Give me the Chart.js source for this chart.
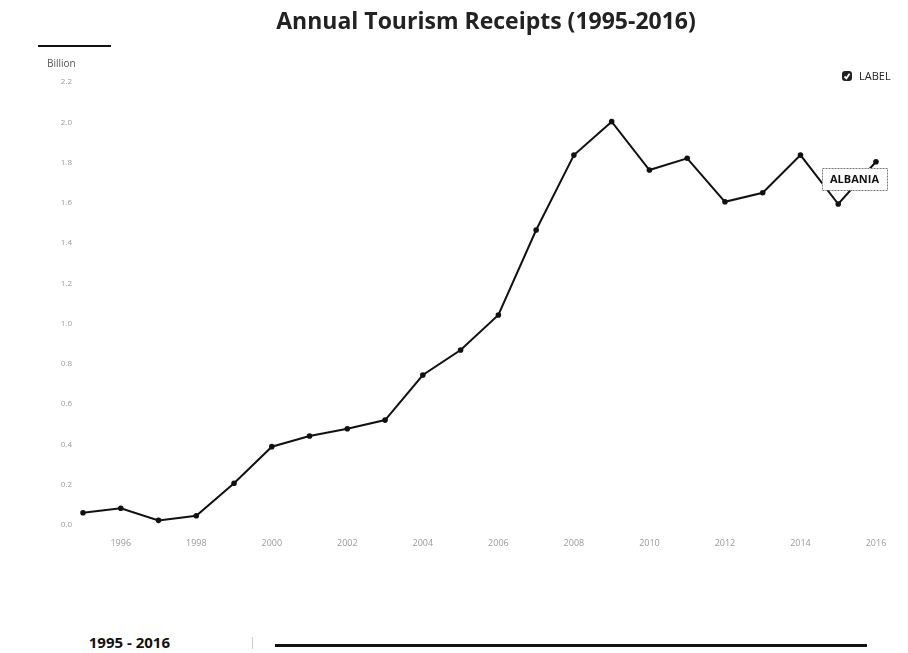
<!DOCTYPE html>
<html>
<head>
<meta charset="utf-8">
<script src="https://cdn.jsdelivr.net/npm/chart.js@4.4.0/dist/chart.umd.min.js"></script>
<style>
  html, body { margin: 0; padding: 0; background: #fff; }
  #wrap { position: relative; width: 908px; height: 580px; }
  #range {
    position: absolute; right: 738px; top: 632px;
    font: bold 15px "Open Sans", sans-serif; color: #111; white-space: nowrap;
  }
  #bar { position: absolute; left: 275px; top: 644px; width: 592px; height: 3px; background: #111; }
  #handle { position: absolute; left: 252px; top: 637px; width: 1px; height: 12px; background: #ccc; }
</style>
</head>
<body>
<div id="wrap"><canvas id="chart"></canvas></div>
<div id="range">1995 - 2016</div>
<div id="handle"></div>
<div id="bar"></div>
<script>
const years = ['1995','1996','1997','1998','1999','2000','2001','2002','2003','2004','2005',
               '2006','2007','2008','2009','2010','2011','2012','2013','2014','2015','2016'];
const receipts = [0.061, 0.083, 0.023, 0.046, 0.207, 0.389, 0.442, 0.478, 0.521, 0.745, 0.869,
                  1.043, 1.465, 1.837, 2.003, 1.763, 1.821, 1.605, 1.650, 1.837, 1.594, 1.804];
const seriesName = 'LABEL';
const countryName = 'ALBANIA';
const chartTitle = 'Annual Tourism Receipts (1995-2016)';

// title, legend, unit label and the country tag are drawn here
const extras = {
    id: 'extras',
    afterDraw(chart) {
        const ctx = chart.ctx;
        ctx.save();
        ctx.textBaseline = 'middle';

        ctx.fillStyle = '#222';
        ctx.font = 'bold 23px "Open Sans"';
        ctx.textAlign = 'center';
        ctx.fillText(chartTitle, 486, 22);

        // legend: dark rounded box with a check mark
        ctx.fillStyle = '#222';
        ctx.beginPath();
        ctx.roundRect(842, 71, 10, 10, 3);
        ctx.fill();
        ctx.strokeStyle = '#fff';
        ctx.lineWidth = 1.8;
        ctx.beginPath();
        ctx.moveTo(844.5, 76.5); ctx.lineTo(846.4, 78.3); ctx.lineTo(849.6, 73.8);
        ctx.stroke();
        ctx.fillStyle = '#222';
        ctx.font = '11px "Open Sans"';
        ctx.textAlign = 'left';
        ctx.fillText(chart.data.datasets[0].label, 859, 76.5);

        // y unit label with bar above
        ctx.fillStyle = '#111';
        ctx.fillRect(38, 45, 73, 2);
        ctx.fillStyle = '#555';
        ctx.font = '10px "Open Sans"';
        ctx.fillText('Billion', 47, 64);

        // country tag near the last point
        const meta = chart.getDatasetMeta(0);
        const last = meta.data[meta.data.length - 1];
        const w = 65, h = 22;
        const bx = Math.round(last.x - 54), by = Math.round(last.y + 6);
        ctx.fillStyle = '#fff';
        ctx.fillRect(bx, by, w, h);
        ctx.strokeStyle = '#777';
        ctx.lineWidth = 1;
        ctx.setLineDash([2, 1]);
        ctx.strokeRect(bx + 0.5, by + 0.5, w, h);
        ctx.setLineDash([]);
        ctx.fillStyle = '#111';
        ctx.font = 'bold 11px "Open Sans"';
        ctx.textAlign = 'center';
        ctx.fillText(countryName, bx + w / 2, by + h / 2 + 1);
        ctx.restore();
    }
};

new Chart(document.getElementById('chart'), {
    type: 'line',
    data: {
        labels: years,
        datasets: [{
            label: seriesName,
            data: receipts,
            borderColor: '#111',
            backgroundColor: '#111',
            borderWidth: 2,
            pointRadius: 1.8,
            pointBackgroundColor: '#111',
            tension: 0
        }]
    },
    options: {
        responsive: true,
        maintainAspectRatio: false,
        animation: false,
        layout: { padding: { top: 82, right: 32, left: 0, bottom: 0 } },
        plugins: {
            title: { display: false },
            legend: { display: false },
            tooltip: { enabled: false }
        },
        scales: {
            x: {
                offset: false,
                grid: { display: false },
                border: { display: false },
                afterFit: scale => { scale.height = 55; },
                ticks: {
                    autoSkip: false,
                    maxRotation: 0,
                    padding: 5,
                    color: '#999',
                    font: { family: 'Open Sans', size: 9 },
                    callback: function(value, index) {
                        const y = years[index];
                        return Number(y) % 2 === 0 ? y : '';
                    }
                }
            },
            y: {
                min: 0,
                max: 2.2,
                grid: { display: false },
                border: { display: false },
                afterFit: scale => { scale.width = 83; },
                ticks: {
                    stepSize: 0.2,
                    padding: 3,
                    color: '#999',
                    font: { family: 'Open Sans', size: 8 },
                    callback: v => v.toFixed(1)
                }
            }
        }
    },
    plugins: [extras]
});
</script>
</body>
</html>
